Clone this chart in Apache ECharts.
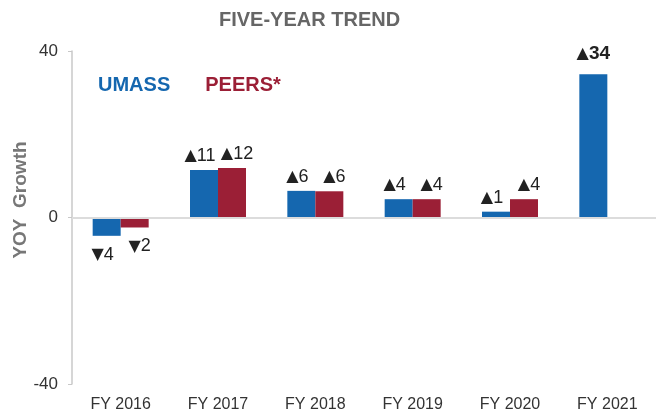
<!DOCTYPE html>
<html>
<head>
<meta charset="utf-8">
<script src="https://cdn.jsdelivr.net/npm/echarts@6/dist/echarts.min.js"></script>
<style>
  html, body { margin: 0; padding: 0; background: #fff; }
  #chart { width: 658px; height: 414px; }
</style>
</head>
<body>
<div id="chart"></div>
<script>
// data
var years = ['FY 2016', 'FY 2017', 'FY 2018', 'FY 2019', 'FY 2020', 'FY 2021'];
var umass = [-4.4, 11.4, 6.4, 4.4, 1.4, 34.4];
var peers = [-2.4, 11.9, 6.3, 4.4, 4.4, null];
var yTicks = [-40, 0, 40];

var BLUE = '#1567AF';
var RED = '#9B1F36';
var FONT = 'Liberation Sans, Arial, sans-serif';

function arrowLabel(p) {
    var v = p.value;
    if (v == null) return '';
    var n = Math.round(Math.abs(v));
    return '{t|' + (v >= 0 ? '▲' : '▼') + '}' + n;
}

var arrowRich = { t: { fontFamily: 'DejaVu Sans', fontSize: 16, color: '#222' } };

var myChart = echarts.init(document.getElementById('chart'));
var option = {
    animation: false,
    textStyle: { fontFamily: FONT },
    title: {
        text: 'FIVE-YEAR TREND',
        left: 214,
        top: 5,
        textStyle: { fontSize: 20, fontWeight: 'bold', color: '#666', fontFamily: FONT }
    },
    legend: {
        left: 88,
        top: 70,
        icon: 'none',
        itemWidth: 0,
        itemGap: 30,
        selectedMode: false,
        textStyle: { fontSize: 20, fontWeight: 'bold', fontFamily: FONT },
        data: [
            { name: 'UMASS', textStyle: { color: BLUE } },
            { name: 'PEERS*', textStyle: { color: RED } }
        ]
    },
    // y axis title, drawn on its own so it sits where the original has it
    graphic: [
        {
            type: 'text',
            x: 21,
            y: 200,
            rotation: Math.PI / 2,
            style: {
                text: 'YOY  Growth',
                fontSize: 19,
                fontWeight: 'bold',
                fontFamily: FONT,
                fill: '#777',
                align: 'center',
                verticalAlign: 'middle'
            }
        }
    ],
    grid: { left: 72, right: 2, top: 51, bottom: 30, containLabel: false, outerBoundsMode: 'none' },
    xAxis: {
        type: 'category',
        data: years,
        axisLine: { show: false },
        axisTick: { show: false },
        axisLabel: { fontSize: 16, color: '#333', margin: 13, fontFamily: FONT }
    },
    yAxis: {
        type: 'value',
        min: yTicks[0],
        max: yTicks[yTicks.length - 1],
        interval: 40,
        axisLine: { show: true, lineStyle: { color: '#c8c8c8', width: 1.5 } },
        axisTick: { show: true, length: 4, lineStyle: { color: '#c8c8c8' } },
        axisLabel: { fontSize: 17, color: '#333', margin: 14, fontFamily: FONT },
        splitLine: { show: false }
    },
    series: [
        {
            name: 'UMASS',
            type: 'bar',
            data: umass,
            barWidth: 28,
            barGap: '0%',
            itemStyle: { color: BLUE },
            label: {
                show: true,
                position: 'top',
                distance: 5,
                offset: [-4, 0],
                fontSize: 18,
                color: '#222',
                fontFamily: FONT,
                formatter: arrowLabel,
                rich: arrowRich
            },
            markLine: {
                silent: true,
                symbol: 'none',
                label: { show: false },
                lineStyle: { color: '#dcdcdc', width: 2, type: 'solid' },
                data: [{ yAxis: 0 }]
            },
            z: 3
        },
        {
            name: 'PEERS*',
            type: 'bar',
            data: peers,
            barWidth: 28,
            itemStyle: { color: RED },
            label: {
                show: true,
                position: 'top',
                distance: 5,
                offset: [5, 0],
                fontSize: 18,
                color: '#222',
                fontFamily: FONT,
                formatter: arrowLabel,
                rich: arrowRich
            },
            z: 3
        }
    ]
};

// negative bars get their label below, the tallest bar gets a bold label
option.series.forEach(function (s) {
    s.data = s.data.map(function (v) {
        if (v == null) return v;
        var item = { value: v };
        if (v < 0) item.label = { position: 'bottom', distance: 10 };
        if (v > 30) item.label = { fontWeight: 'bold', fontSize: 19, distance: 11, offset: [0, 0] };
        return item;
    });
});

myChart.setOption(option);
window.addEventListener('resize', function () {
    myChart.resize();
});
</script>
</body>
</html>
